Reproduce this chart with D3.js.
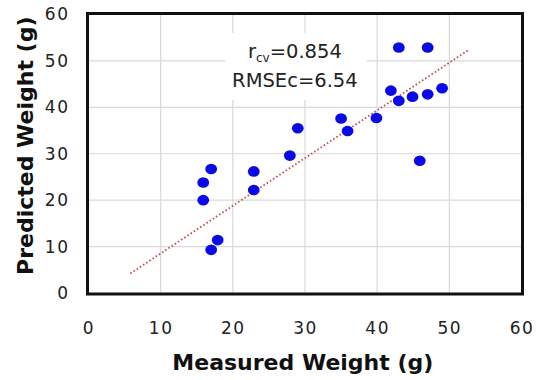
<!DOCTYPE html>
<html>
<head>
<meta charset="utf-8">
<script src="https://cdn.jsdelivr.net/npm/d3@7"></script>
<style>
  html, body { margin: 0; padding: 0; background: #fff; }
</style>
</head>
<body>
<div id="chart"></div>
<script>
// Data
const measured  = [43, 47, 49, 41.9, 43, 44.9, 47, 39.9, 35, 35.9, 29, 27.9, 45.9, 22.9, 22.9, 17, 15.9, 15.9, 17.9, 17];
const predicted = [52.9, 52.9, 44.1, 43.6, 41.4, 42.3, 42.8, 37.7, 37.6, 34.9, 35.5, 29.6, 28.5, 26.2, 22.2, 26.7, 23.8, 20, 11.4, 9.3];
const trendX = [5.8, 52.8];
const trendY = [4.2, 52.5];
const ticks = [0, 10, 20, 30, 40, 50, 60];
const statLines = ["=0.854", "RMSEc=6.54"];

const width = 542, height = 380;
const margin = { left: 88.5, right: 20.5, top: 14.5, bottom: 87 };
const font = "'DejaVu Sans', 'Noto Sans', sans-serif";

const svg = d3.select("#chart").append("svg")
  .attr("width", width)
  .attr("height", height)
  .attr("font-family", font);

const x = d3.scaleLinear().domain([0, 60]).range([margin.left, width - margin.right]);
const y = d3.scaleLinear().domain([0, 60]).range([height - margin.bottom, margin.top]);

// gridlines
const grid = svg.append("g").attr("stroke", "#d9d9d9").attr("stroke-width", 1.2);
grid.selectAll(".gx")
  .data(ticks.slice(1, -1))
  .join("line")
  .attr("x1", d => x(d)).attr("x2", d => x(d))
  .attr("y1", y(0)).attr("y2", y(60));
grid.selectAll(".gy")
  .data(ticks.slice(1, -1))
  .join("line")
  .attr("y1", d => y(d)).attr("y2", d => y(d))
  .attr("x1", x(0)).attr("x2", x(60));

// tick labels
const xAxis = svg.append("g")
  .attr("transform", `translate(0,${y(0)})`)
  .call(d3.axisBottom(x).tickValues(ticks).tickSize(0).tickPadding(29));
xAxis.select(".domain").remove();
xAxis.selectAll("text")
  .attr("font-size", 17).attr("fill", "#222").attr("font-family", font)
  .attr("letter-spacing", 1.5);

const yAxis = svg.append("g")
  .attr("transform", `translate(${x(0)},0)`)
  .call(d3.axisLeft(y).tickValues(ticks).tickSize(0).tickPadding(19));
yAxis.select(".domain").remove();
yAxis.selectAll("text")
  .attr("font-size", 17).attr("fill", "#222").attr("font-family", font)
  .attr("letter-spacing", 1.5);

// trend line
svg.append("line")
  .attr("x1", x(trendX[0])).attr("y1", y(trendY[0]))
  .attr("x2", x(trendX[1])).attr("y2", y(trendY[1]))
  .attr("stroke", "#c0504d")
  .attr("stroke-width", 1.8)
  .attr("stroke-dasharray", "1.6,2.2");

// stats label box
const box = svg.append("g");
box.append("rect")
  .attr("x", 225).attr("y", 33).attr("width", 142).attr("height", 67)
  .attr("fill", "#fff");
const t1 = box.append("text")
  .attr("x", x(28.6)).attr("y", 58)
  .attr("text-anchor", "middle")
  .attr("font-size", 19.5).attr("fill", "#222");
t1.append("tspan").text("r");
t1.append("tspan").attr("font-size", 12).attr("dy", 4).text("cv");
t1.append("tspan").attr("dy", -4).text(statLines[0]);
box.append("text")
  .attr("x", x(28.6)).attr("y", 87)
  .attr("text-anchor", "middle")
  .attr("font-size", 19.5).attr("fill", "#222")
  .text(statLines[1]);

// points
svg.append("g")
  .attr("fill", "#0a0ae6")
  .selectAll("ellipse")
  .data(measured.map((m, i) => [m, predicted[i]]))
  .join("ellipse")
  .attr("cx", d => x(d[0]))
  .attr("cy", d => y(d[1]))
  .attr("rx", 5.9)
  .attr("ry", 5.3);

// plot border
svg.append("rect")
  .attr("x", x(0) - 1).attr("y", y(60) - 1)
  .attr("width", x(60) - x(0) + 2).attr("height", y(0) - y(60) + 2)
  .attr("fill", "none")
  .attr("stroke", "#111")
  .attr("stroke-width", 3);

// axis titles
svg.append("text")
  .attr("x", x(29.7)).attr("y", 370)
  .attr("text-anchor", "middle")
  .attr("font-size", 22).attr("font-weight", "bold").attr("fill", "#111")
  .text("Measured Weight (g)");

svg.append("text")
  .attr("transform", `translate(33,${y(30) - 8}) rotate(-90)`)
  .attr("text-anchor", "middle")
  .attr("font-size", 22).attr("font-weight", "bold").attr("fill", "#111")
  .text("Predicted Weight (g)");
</script>
</body>
</html>
